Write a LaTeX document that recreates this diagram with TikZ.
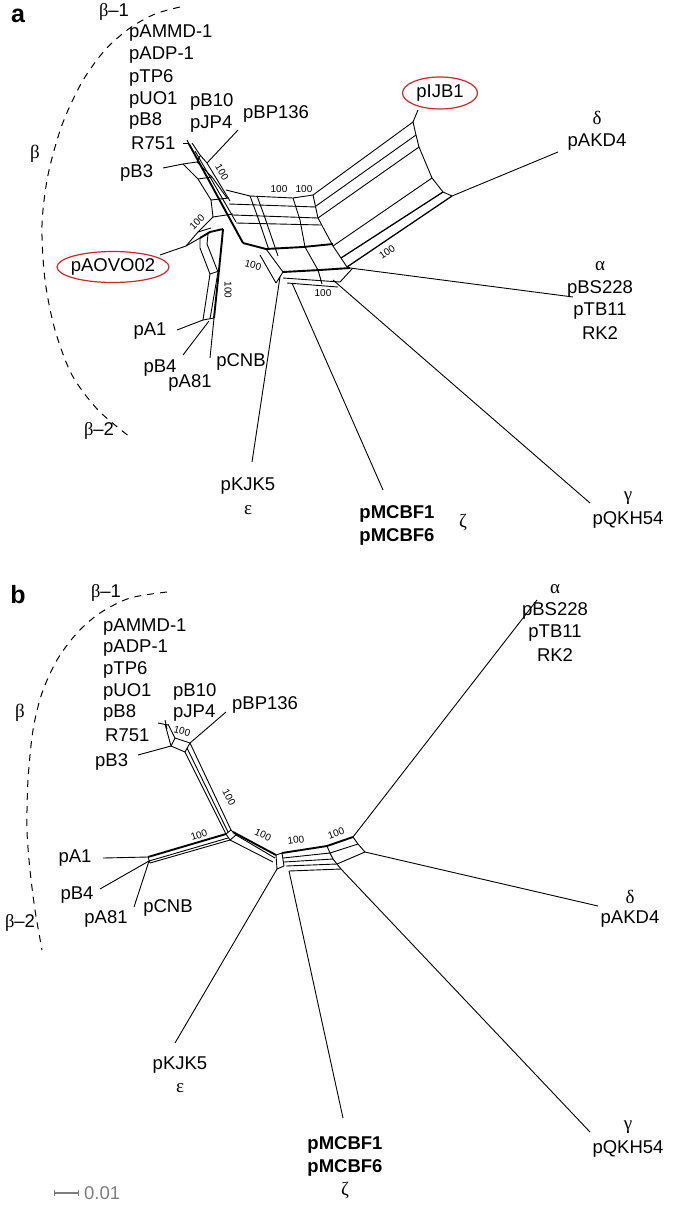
\documentclass[tikz,border=0pt]{standalone}
\usepackage{fontspec}
\setmainfont{Liberation Sans}
\newfontfamily\grk{Liberation Serif}
\usetikzlibrary{shapes.geometric}
\definecolor{ellred}{RGB}{205,40,40}
\definecolor{bargray}{RGB}{125,125,125}
\begin{document}
\begin{tikzpicture}[x=1pt,y=-1pt,
  lbl/.style={font=\fontsize{18.5}{22}\selectfont, inner sep=0pt},
  glbl/.style={font=\grk\fontsize{19}{22}\selectfont, inner sep=0pt},
  bs/.style={font=\fontsize{10}{12}\selectfont, inner sep=0pt},
  net/.style={line width=0.9pt, line join=round},
  netk/.style={line width=1.9pt, line join=round},
  netm/.style={line width=1.3pt, line join=round},
  leaf/.style={line width=0.9pt},
  darc/.style={line width=1pt, dash pattern=on 7pt off 6pt},
  ellring/.style={draw=ellred, line width=1.2pt},
  plab/.style={font=\bfseries\fontsize{25}{28}\selectfont, inner sep=0pt}]
\useasboundingbox (0,0) rectangle (685,1205);
\fill[white] (0,0) rectangle (685,1205);

%================ PANEL A =================
\node[plab] (pa) at (18,16) {a};
\draw[darc] plot[smooth] coordinates {(180,7) (155,14) (130,28) (105,50) (82,82) (62,125) (48,175) (42,225) (45,280) (55,330) (72,375) (98,410) (130,437)};
\node[lbl] (aB1) at (114,12) {{\grk β}–1};
\node[glbl] (aBeta) at (35,154) {β};
\node[lbl] (aB2) at (99,431) {{\grk β}–2};

\node[lbl, anchor=west] (aAMMD) at (129,33) {pAMMD-1};
\node[lbl, anchor=west] (aADP) at (129,55) {pADP-1};
\node[lbl, anchor=west] (aTP6) at (129,78) {pTP6};
\node[lbl, anchor=west] (aUO1) at (129,100) {pUO1};
\node[lbl, anchor=west] (aB8) at (129,121) {pB8};
\node[lbl, anchor=west] (aR751) at (131,143) {R751};
\node[lbl, anchor=west] (aB10) at (190,102) {pB10};
\node[lbl, anchor=west] (aJP4) at (190,124) {pJP4};
\node[lbl, anchor=west] (aBP136) at (243,114) {pBP136};
\node[lbl, anchor=west] (aB3) at (120,173) {pB3};
\node[lbl] (aAOVO) at (113,267) {pAOVO02};
\draw[ellring] (aAOVO.center) ellipse [x radius=56, y radius=15.5];
\node[lbl] (aIJB1) at (440,93) {pIJB1};
\draw[ellring] (aIJB1.center) ellipse [x radius=37.5, y radius=16];
\node[glbl] (aDelta) at (597,118) {δ};
\node[lbl] (aAKD4) at (597,142) {pAKD4};
\node[glbl] (aAlpha) at (600,266) {α};
\node[lbl] (aBS228) at (600,289) {pBS228};
\node[lbl] (aTB11) at (600,311) {pTB11};
\node[lbl] (aRK2) at (600,333) {RK2};
\node[lbl] (aA1) at (150,331) {pA1};
\node[lbl] (aB4) at (160,368) {pB4};
\node[lbl] (aA81) at (190,383) {pA81};
\node[lbl] (aCNB) at (241,362) {pCNB};
\node[lbl] (aKJK5) at (248,486) {pKJK5};
\node[glbl] (aEps) at (248,510) {ε};
\node[lbl, font=\bfseries\fontsize{18.5}{22}\selectfont] (aMC1) at (397,514) {pMCBF1};
\node[lbl, font=\bfseries\fontsize{18.5}{22}\selectfont] (aMC6) at (397,537) {pMCBF6};
\node[glbl] (aZeta) at (463,523) {ζ};
\node[glbl] (aGamma) at (628,498) {γ};
\node[lbl] (aQKH) at (628,520) {pQKH54};

% network a : beta band
\draw[net] (183,143) -- (189,143);
\draw[net] (187,140) -- (190,146);
\draw[netk] (189,144) -- (243,243);
\draw[net] (192,143) -- (200,155) -- (207,163) -- (230,201);
\draw[net] (195,151) -- (236,222);
% pB3 box
\draw[net] (183,164) -- (197,162) -- (200,156);
\draw[net] (183,164) -- (198,179) -- (211,200) -- (213,217);
\draw[net] (197,162) -- (212,177) -- (227,198);
\draw[net] (198,179) -- (212,177);
\draw[net] (211,200) -- (229,198);
\draw[net] (213,217) -- (233,214);
% pAOVO02 box
\draw[net] (213,217) -- (198,232) -- (186,246);
\draw[net] (186,246) -- (200,238);
\draw[netk] (200,238) -- (210,232) -- (223,229);
\draw[net] (198,232) -- (211,228);
% lower-left band
\draw[net] (200,238) -- (200,248) -- (210,274) -- (203,320);
\draw[net] (208,234) -- (207,244) -- (218,272) -- (210,319);
\draw[netk] (223,229) -- (222,240) -- (219,270) -- (214,318);
\draw[net] (203,320) -- (214,318);
\draw[net] (210,274) -- (219,271);
% middle box
\draw[net] (226,190) -- (250,196) -- (293,198) -- (313,195);
\draw[net] (229,204) -- (316,207);
\draw[net] (233,215) -- (318,218);
\draw[net] (236,223) -- (321,225);
\draw[net] (250,196) -- (257,215) -- (269,250);
\draw[net] (257,196) -- (264,215) -- (278,256);
\draw[net] (293,198) -- (300,220) -- (305,247);
\draw[net] (313,195) -- (318,218) -- (333,246) -- (347,267);
\draw[netk] (243,243) -- (266,249) -- (303,247) -- (333,244);
% lower middle
\draw[net] (266,249) -- (283,272);
\draw[net] (260,255) -- (276,283);
\draw[net] (276,283) -- (283,272);
\draw[netk] (283,272) -- (320,270) -- (350,268);
\draw[net] (283,278) -- (340,282) -- (352,269);
\draw[net] (287,283) -- (338,287);
\draw[net] (305,247) -- (318,270) -- (322,284);
% pIJB1 band
\draw[net] (313,195) -- (413,122);
\draw[net] (316,206) -- (416,135);
\draw[net] (318,218) -- (419,147);
\draw[net] (333,246) -- (432,178);
\draw[netm] (341,258) -- (443,192);
\draw[netm] (347,267) -- (452,196);
\draw[net] (413,122) -- (416,135) -- (419,147) -- (432,178) -- (443,192) -- (452,196);
% support labels a
\node[bs, rotate=-60] (s1) at (222,172) {100};
\node[bs, rotate=45] (s2) at (197,222) {100};
\node[bs] (s3) at (279,189) {100};
\node[bs] (s4) at (304,189) {100};
\node[bs, rotate=-15] (s5) at (253,265) {100};
\node[bs, rotate=-90] (s6) at (228,290) {100};
\node[bs] (s7) at (323,293) {100};
\node[bs, rotate=35] (s8) at (387,252) {100};
% leaf edges a
\coordinate (aTipIJB) at (413,122);
\draw[leaf] (aTipIJB) -- (418,110);
\draw[leaf] (452,196) -- (558,152);
\draw[leaf] (350,268) -- (573,297);
\draw[leaf] (333,280) -- (590,503);
\draw[leaf] (292,283) -- (383,490);
\draw[leaf] (280,277) -- (252,462);
\draw[leaf] (203,320) -- (177,330);
\draw[leaf] (209,321) -- (183,355);
\draw[leaf] (214,318) -- (210,358);
\draw[leaf] (186,246) -- (160,255);
\draw[leaf] (163,168) -- (183,164);
\draw[leaf] (238,130) -- (207,163);

%================ PANEL B =================
\node[plab] (pb) at (18,595) {b};
\draw[darc] plot[smooth] coordinates {(167,592) (130,598) (100,613) (77,633) (57,660) (42,693) (33,730) (28,780) (27,830) (30,870) (35,910) (42,950)};
\node[lbl] (bB1) at (106,593) {{\grk β}–1};
\node[glbl] (bBeta) at (20,713) {β};
\node[lbl] (bB2) at (20,923) {{\grk β}–2};

\node[lbl, anchor=west] (bAMMD) at (103,627) {pAMMD-1};
\node[lbl, anchor=west] (bADP) at (103,648) {pADP-1};
\node[lbl, anchor=west] (bTP6) at (103,670) {pTP6};
\node[lbl, anchor=west] (bUO1) at (103,692) {pUO1};
\node[lbl, anchor=west] (bB8) at (103,713) {pB8};
\node[lbl, anchor=west] (bR751) at (105,735) {R751};
\node[lbl, anchor=west] (bB10) at (173,692) {pB10};
\node[lbl, anchor=west] (bJP4) at (173,713) {pJP4};
\node[lbl, anchor=west] (bBP136) at (232,705) {pBP136};
\node[lbl, anchor=west] (bB3) at (95,762) {pB3};
\node[glbl] (bAlpha) at (555,589) {α};
\node[lbl] (bBS228) at (555,611) {pBS228};
\node[lbl] (bTB11) at (555,633) {pTB11};
\node[lbl] (bRK2) at (555,655) {RK2};
\node[glbl] (bDelta) at (630,897) {δ};
\node[lbl] (bAKD4) at (630,919) {pAKD4};
\node[lbl] (bA1) at (75,858) {pA1};
\node[lbl] (bB4) at (77,895) {pB4};
\node[lbl] (bA81) at (106,919) {pA81};
\node[lbl] (bCNB) at (168,908) {pCNB};
\node[lbl] (bKJK5) at (180,1065) {pKJK5};
\node[glbl] (bEps) at (180,1088) {ε};
\node[lbl, font=\bfseries\fontsize{18.5}{22}\selectfont] (bMC1) at (345,1145) {pMCBF1};
\node[lbl, font=\bfseries\fontsize{18.5}{22}\selectfont] (bMC6) at (345,1168) {pMCBF6};
\node[glbl] (bZeta) at (345,1190) {ζ};
\node[glbl] (bGamma) at (628,1127) {γ};
\node[lbl] (bQKH) at (628,1149) {pQKH54};

% network b
\draw[net] (158,723) -- (168,725);
\draw[net] (165,720) -- (167,729);
\draw[net] (165,724) -- (171,746);
\draw[net] (168,724) -- (175,738);
\draw[net] (171,746) -- (175,738);
\draw[net] (171,746) -- (185,752);
\draw[net] (175,738) -- (190,743);
\draw[net] (185,752) -- (190,743);
\draw[net] (185,752) -- (226,834);
\draw[net] (190,743) -- (231,830);
\draw[net] (187,748) -- (228,832);
\draw[net] (226,834) -- (231,830) -- (236,835) -- (230,840) -- cycle;
\draw[netk] (226,834) -- (148,857);
\draw[net] (228,838) -- (149,861);
\draw[net] (230,840) -- (150,863);
\draw[net] (148,857) -- (150,863);
\draw[netk] (233,832) -- (276,855);
\draw[net] (230,840) -- (273,862);
\draw[net] (236,835) -- (275,858);
\draw[net] (276,855) -- (282,853) -- (284,866) -- (277,869) -- cycle;
\draw[netk] (282,853) -- (327,846) -- (353,837);
\draw[net] (283,858) -- (330,853);
\draw[net] (284,862) -- (333,859);
\draw[net] (286,866) -- (337,864);
\draw[net] (289,871) -- (341,869);
\draw[net] (327,846) -- (330,853) -- (333,859) -- (337,864) -- (341,869);
\draw[net] (330,853) -- (358,844);
\draw[net] (337,864) -- (365,852);
\draw[net] (353,837) -- (358,844) -- (365,852);
% support labels b
\node[bs, rotate=-15] (t1) at (182,731) {100};
\node[bs, rotate=-62] (t2) at (229,797) {100};
\node[bs, rotate=18] (t3) at (199,835) {100};
\node[bs, rotate=-25] (t4) at (263,835) {100};
\node[bs, rotate=8] (t5) at (296,840) {100};
\node[bs, rotate=20] (t6) at (336,833) {100};
% leaf edges b
\draw[leaf] (353,837) -- (537,600);
\draw[leaf] (365,852) -- (598,906);
\draw[leaf] (341,869) -- (590,1132);
\draw[leaf] (289,871) -- (343,1118);
\draw[leaf] (277,869) -- (175,1043);
\draw[leaf] (148,857) -- (103,858);
\draw[leaf] (149,861) -- (100,889);
\draw[leaf] (149,861) -- (134,907);
\draw[leaf] (138,755) -- (171,746);
\draw[leaf] (226,712) -- (190,743);

% scale bar
\coordinate (sbL) at (54,1193);
\coordinate (sbR) at (78,1193);
\draw[bargray, line width=1.6pt] (sbL) -- (sbR);
\draw[bargray, line width=1pt] ([yshift=-3pt]sbL) -- ([yshift=3pt]sbL);
\draw[bargray, line width=1pt] ([yshift=-3pt]sbR) -- ([yshift=3pt]sbR);
\node[lbl, anchor=west, text=bargray] (sbT) at (84,1193) {0.01};
\end{tikzpicture}
\end{document}
